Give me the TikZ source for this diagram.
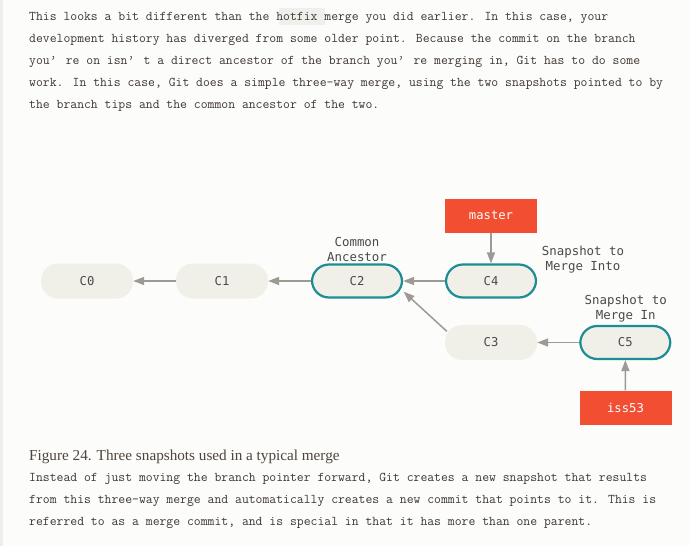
\documentclass[tikz,border=0pt]{standalone}
\usepackage{fontspec}
\newfontfamily\dmono{DejaVu Sans Mono}
\newfontfamily\capfont{Liberation Serif}
\usetikzlibrary{arrows.meta}
\definecolor{pagebg}{HTML}{FCFCFA}
\definecolor{stripbg}{HTML}{EEEEEB}
\definecolor{codebg}{HTML}{EFEFEC}
\definecolor{bodytext}{HTML}{3E3630}
\definecolor{captext}{HTML}{4E443C}
\definecolor{cfill}{HTML}{F0EFE8}
\definecolor{cteal}{HTML}{1D8C95}
\definecolor{gitred}{HTML}{F14E32}
\definecolor{agray}{HTML}{9C9A92}
\definecolor{ctext}{HTML}{4A4A48}
\newcommand\myapos{\makebox[16pt][l]{’}}
\begin{document}
\begin{tikzpicture}[x=1pt,y=-1pt,
  para/.style={anchor=base west, inner sep=0pt, text=bodytext,
    font=\ttfamily\fontsize{13.33}{22}\selectfont},
  commit/.style={rectangle, rounded corners=17pt, minimum width=92pt,
    minimum height=35pt, fill=cfill, text=ctext, inner sep=0pt,
    font=\dmono\fontsize{12.2}{15}\selectfont},
  tipcommit/.style={commit, draw=cteal, line width=2.2pt,
    minimum width=90pt, minimum height=33pt},
  branch/.style={rectangle, fill=gitred, text=white, minimum width=92pt,
    minimum height=34pt, inner sep=0pt, font=\dmono\fontsize{12.2}{15}\selectfont},
  lbl/.style={align=center, text=ctext, inner sep=0pt,
    font=\dmono\fontsize{12.4}{15}\selectfont},
  arr/.style={draw=agray, line width=1.5pt, -{Triangle[length=11pt,width=8pt]}}
]
\fill[pagebg] (0,0) rectangle (690,546);
\fill[stripbg] (0,0) rectangle (3,546);
\useasboundingbox (0,0) rectangle (690,546);

% top paragraph
\fill[codebg] (279,8) rectangle (325,25);
\node[para] (p1) at (29,20.5) {This looks a bit different than the hotfix merge you did earlier. In this case, your};
\node[para] (p2) at (29,42.5) {development history has diverged from some older point. Because the commit on the branch};
\node[para] (p3) at (29,64.5) {you\myapos re on isn\myapos t a direct ancestor of the branch you\myapos re merging in, Git has to do some};
\node[para] (p4) at (29,86.5) {work. In this case, Git does a simple three-way merge, using the two snapshots pointed to by};
\node[para] (p5) at (29,108.5) {the branch tips and the common ancestor of the two.};

% diagram
\node[commit] (C0) at (87,281) {C0};
\node[commit] (C1) at (222,281) {C1};
\node[tipcommit] (C2) at (357,281) {C2};
\node[tipcommit] (C4) at (491,281) {C4};
\node[commit] (C3) at (491,342.5) {C3};
\node[tipcommit] (C5) at (625.3,342.5) {C5};
\node[branch] (master) at (491,215.5) {master};
\node[branch] (iss53) at (625.5,407.5) {iss53};
\node[lbl] (lca) at (357,249.2) {Common\\Ancestor};
\node[lbl] (lin) at (583,259.2) {Snapshot to\\Merge Into};
\node[lbl] (lmi) at (625.7,308.5) {Snapshot to\\Merge In};

\draw[arr] (C1) -- (C0);
\draw[arr] (C2) -- (C1);
\draw[arr] (C4) -- (C2);
\draw[arr] (C5) -- (C3);
\draw[arr] ([shift={(2,6.5)}]C3.north west) -- ([shift={(0.5,10.7)}]C2.east);
\draw[arr] (master) -- (C4);
\draw[arr] (iss53) -- (C5);

% caption and bottom paragraph
\node[anchor=base west, inner sep=0pt, text=captext,
  font=\capfont\fontsize{15.2}{17}\selectfont] (cap) at (29,460)
  {Figure 24. Three snapshots used in a typical merge};
\node[para] (q1) at (29,481) {Instead of just moving the branch pointer forward, Git creates a new snapshot that results};
\node[para] (q2) at (29,503) {from this three-way merge and automatically creates a new commit that points to it. This is};
\node[para] (q3) at (29,525) {referred to as a merge commit, and is special in that it has more than one parent.};
\end{tikzpicture}
\end{document}
